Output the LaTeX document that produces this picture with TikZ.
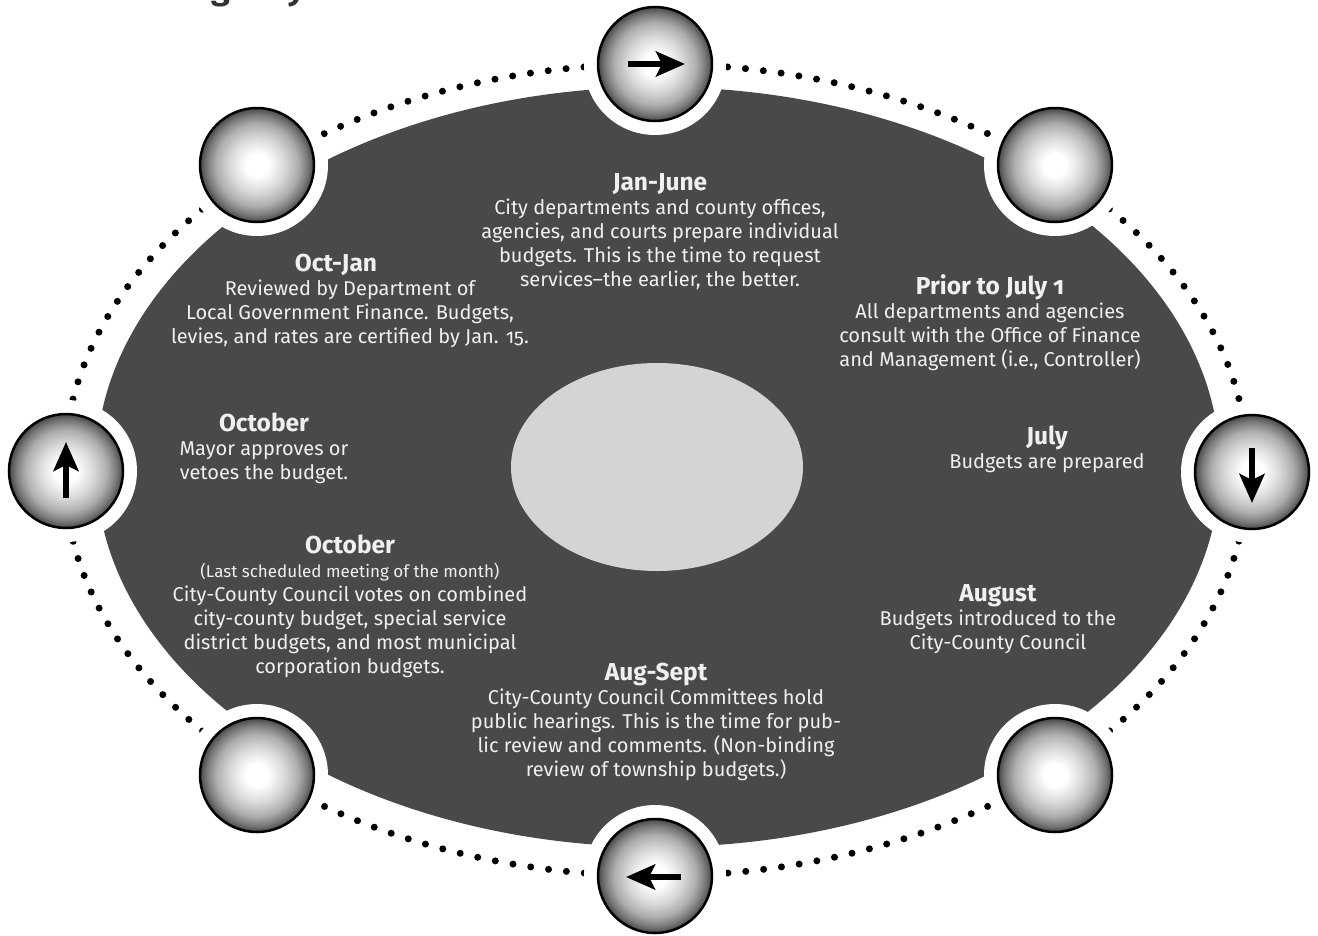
\documentclass[tikz,border=0pt]{standalone}
\usepackage{fontspec}
\setmainfont{Fira Sans}[Numbers=OldStyle]
\usetikzlibrary{arrows.meta,calc}
\definecolor{darkfill}{RGB}{74,73,73}
\definecolor{centerfill}{RGB}{212,212,212}
\definecolor{txt}{RGB}{240,240,240}
\pgfdeclareradialshading{ballshade}{\pgfpoint{0bp}{0bp}}{color(0bp)=(white); color(5bp)=(white); color(12bp)=(black!15); color(18bp)=(black!32); color(22bp)=(black!52); color(25bp)=(black!72); color(50bp)=(black!72)}
\newcommand{\hd}[1]{{\fontsize{24.5}{24}\selectfont\bfseries #1}}
\newcommand{\sm}[1]{{\fontsize{17}{24}\selectfont #1}}
\begin{document}
\begin{tikzpicture}[x=1pt,y=-1pt,
  ball/.style={circle, minimum size=114pt, inner sep=0pt, draw=black, line width=2.5pt, shading=ballshade},
  halo/.style={fill=white},
  dir/.style={line width=6pt, -{Stealth[length=29pt,width=25pt,inset=6pt]}},
  blk/.style={font=\fontsize{20}{24}\selectfont, align=center, text=txt, inner sep=0pt, anchor=base},
  dots/.style={line width=7pt, dash pattern=on 0pt off 17.97pt, line cap=round}
]
\useasboundingbox[fill=white] (0,0) rectangle (1318,935);
\node[font=\fontsize{34}{40}\selectfont\bfseries, text=black!80, anchor=base west, inner sep=0pt] (title) at (86,-1) {The Budget Cycle};

% main shapes
\fill[darkfill] (658,467) ellipse [x radius=562, y radius=380];
\draw[dots] (656,470) ellipse [x radius=592, y radius=406];
\fill[centerfill] (657,467) ellipse [x radius=146, y radius=104];

% ball positions
\coordinate (ptop) at (655,64);
\coordinate (ptr) at (1055,165);
\coordinate (pright) at (1252,472);
\coordinate (pbr) at (1055,775);
\coordinate (pbot) at (655,876);
\coordinate (pbl) at (257,775);
\coordinate (pleft) at (66,471);
\coordinate (ptl) at (257,165);

\foreach \p in {ptop,ptr,pright,pbr,pbot,pbl,pleft,ptl}
  \fill[halo] (\p) circle (71);

\node[ball] (btop) at (ptop) {};
\node[ball] (btr) at (ptr) {};
\node[ball] (bright) at (pright) {};
\node[ball] (bbr) at (pbr) {};
\node[ball] (bbot) at (pbot) {};
\node[ball] (bbl) at (pbl) {};
\node[ball] (bleft) at (pleft) {};
\node[ball] (btl) at (ptl) {};

% direction arrows
\coordinate (a1s) at ($(btop.center)+(-27,0)$);
\coordinate (a1e) at ($(btop.center)+(30,0)$);
\draw[dir] (a1s) -- (a1e);
\coordinate (a2s) at ($(bright.center)+(0,-24)$);
\coordinate (a2e) at ($(bright.center)+(0,31)$);
\draw[dir] (a2s) -- (a2e);
\coordinate (a3s) at ($(bbot.center)+(26,1)$);
\coordinate (a3e) at ($(bbot.center)+(-29,1)$);
\draw[dir] (a3s) -- (a3e);
\coordinate (a4s) at ($(bleft.center)+(0,27)$);
\coordinate (a4e) at ($(bleft.center)+(0,-29)$);
\draw[dir] (a4s) -- (a4e);

% texts (anchor base = baseline of the last line)
\node[blk] (janjune) at (660,286) {\hd{Jan-June}\\City departments and county offices,\\agencies, and courts prepare individual\\budgets. This is the time to request\\services–the earlier, the better.};
\node[blk] (octjan) at (350,343) {\hd{Oct-Jan}\hspace*{28pt}\\Reviewed by Department of\\Local Government Finance. Budgets,\\levies, and rates are certified by Jan. 15.};
\node[blk] (prior) at (990,366) {\hd{Prior to July 1}\\All departments and agencies\\consult with the Office of Finance\\and Management (i.e., Controller)};
\node[blk] (oct1) at (264,479) {\hd{October}\\Mayor approves or\\vetoes the budget.};
\node[blk] (july) at (1047,468) {\hd{July}\\Budgets are prepared};
\node[blk] (oct2) at (350,673) {\hd{October}\\\sm{(Last scheduled meeting of the month)}\\City-County Council votes on combined\\city-county budget, special service\\district budgets, and most municipal\\corporation budgets.};
\node[blk] (august) at (998,649) {\hd{August}\\Budgets introduced to the\\City-County Council};
\node[blk] (augsept) at (656,776) {\hd{Aug-Sept}\\City-County Council Committees hold\\public hearings. This is the time for pub-\\lic review and comments. (Non-binding\\review of township budgets.)};
\end{tikzpicture}
\end{document}
